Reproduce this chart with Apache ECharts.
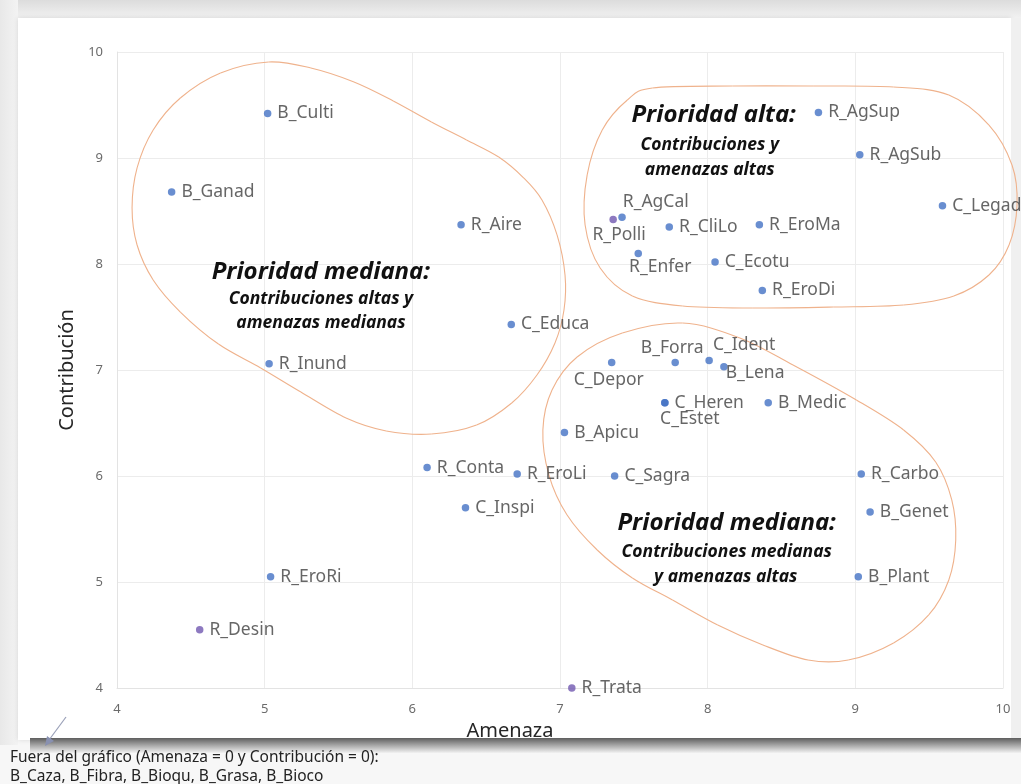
<!DOCTYPE html>
<html>
<head>
<meta charset="utf-8">
<script src="https://cdn.jsdelivr.net/npm/echarts@6/dist/echarts.min.js"></script>
<style>
  html, body { margin:0; padding:0; width:1021px; height:784px; overflow:hidden; background:#f7f7f7; }
  #topband { position:absolute; left:0; top:0; width:1021px; height:20px; background:linear-gradient(#dcdcdc, #f4f4f4); }
  #leftband { position:absolute; left:0; top:0; width:18px; height:745px; background:linear-gradient(90deg, #e8e8e8, #f3f3f3); }
  #card { position:absolute; left:18px; top:18px; width:993px; height:722px; background:#fff; box-shadow:0 0 5px rgba(0,0,0,0.12); }
  #rightband { position:absolute; left:1011px; top:18px; width:10px; height:722px; background:#f0f0f0; }
  #bottomshadow { position:absolute; left:30px; top:738px; width:991px; height:15px; background:linear-gradient(#5e5e5e, #9a9a9a 40%, #f2f2f2); }
  #chart { position:absolute; left:0; top:0; width:1021px; height:784px; }
</style>
</head>
<body>
<div id="topband"></div>
<div id="leftband"></div>
<div id="card"></div>
<div id="rightband"></div>
<div id="bottomshadow"></div>
<div id="chart"></div>
<script>
// ---- Data ----
const blueNames = ['B_Culti','B_Ganad','R_Aire','R_Inund','C_Educa','R_AgSup','R_AgSub','C_Legad','R_AgCal','R_CliLo','R_EroMa','R_Enfer','C_Ecotu','R_EroDi','C_Depor','B_Forra','C_Ident','B_Lena','C_Heren','C_Estet','B_Medic','B_Apicu','R_Conta','R_EroLi','C_Sagra','R_Carbo','B_Genet','B_Plant','C_Inspi','R_EroRi'];
const blueAmenaza = [5.02,4.37,6.33,5.03,6.67,8.75,9.03,9.59,7.42,7.74,8.35,7.53,8.05,8.37,7.35,7.78,8.01,8.11,7.71,7.71,8.41,7.03,6.10,6.71,7.37,9.04,9.10,9.02,6.36,5.04];
const blueContrib = [9.42,8.68,8.37,7.06,7.43,9.43,9.03,8.55,8.44,8.35,8.37,8.10,8.02,7.75,7.07,7.07,7.09,7.03,6.69,6.69,6.69,6.41,6.08,6.02,6.00,6.02,5.66,5.05,5.70,5.05];
const purpleNames = ['R_Polli','R_Desin','R_Trata'];
const purpleAmenaza = [7.36,4.56,7.08];
const purpleContrib = [8.42,4.55,4.00];
const xTicks = [4,5,6,7,8,9,10];
const yTicks = [4,5,6,7,8,9,10];

// Zone outlines (data coordinates: [Amenaza, Contribución])
const zoneMedianaAlta = [[5.027,9.906],[5.313,9.849],[5.605,9.717],[5.871,9.538],[6.129,9.340],[6.367,9.170],[6.585,9.009],[6.755,8.811],[6.878,8.604],[6.980,8.274],[7.034,7.896],[7.027,7.566],[6.966,7.255],[6.844,6.953],[6.673,6.689],[6.435,6.481],[6.129,6.396],[5.823,6.425],[5.551,6.547],[5.245,6.792],[4.973,7.019],[4.687,7.245],[4.429,7.547],[4.245,7.849],[4.136,8.179],[4.102,8.528],[4.136,8.906],[4.245,9.264],[4.429,9.566],[4.701,9.802]];
const zoneAlta = [[7.626,9.660],[8.170,9.679],[8.714,9.679],[9.259,9.670],[9.633,9.594],[9.905,9.311],[10.061,8.934],[10.095,8.557],[10.041,8.179],[9.905,7.896],[9.667,7.698],[9.327,7.613],[8.850,7.594],[8.306,7.585],[7.830,7.604],[7.490,7.698],[7.272,7.962],[7.170,8.368],[7.184,8.840],[7.286,9.264],[7.456,9.547]];
const zoneMedianaBaja = [[7.830,7.443],[8.218,7.302],[8.578,7.047],[9.007,6.717],[9.327,6.434],[9.544,6.132],[9.653,5.774],[9.680,5.396],[9.633,5.019],[9.497,4.689],[9.259,4.425],[8.952,4.264],[8.680,4.264],[8.374,4.406],[8.068,4.594],[7.762,4.830],[7.490,5.038],[7.252,5.302],[7.048,5.632],[6.925,6.009],[6.884,6.434],[6.946,6.811],[7.116,7.123],[7.422,7.349]];
const zones = [zoneMedianaAlta, zoneAlta, zoneMedianaBaja];

// Zone captions
const captionText = ['Prioridad mediana:','Contribuciones altas y','amenazas medianas','Prioridad alta:','Contribuciones y','amenazas altas','Prioridad mediana:','Contribuciones medianas','y amenazas altas'];
const captionX = [5.381,5.381,5.381,8.041,8.014,8.014,8.129,8.129,8.122];
const captionY = [7.925,7.670,7.443,9.406,9.123,8.887,5.557,5.283,5.047];
const captionKind = ['title','sub','sub','title','sub','sub','title','sub','sub'];

const footLines = ['Fuera del gráfico (Amenaza = 0 y Contribución = 0):','B_Caza, B_Fibra, B_Bioqu, B_Grasa, B_Bioco'];

// ---- Label placement overrides (style, not data) ----
const labelPlace = {
  'R_AgCal': {position:'right', offset:[-9,-15]},
  'R_Polli': {position:'bottom', offset:[6,-3]},
  'R_Enfer': {position:'bottom', offset:[22,-5]},
  'C_Depor': {position:'bottom', offset:[-3,-1]},
  'B_Forra': {position:'top', offset:[-3,4]},
  'C_Ident': {position:'top', offset:[35,3]},
  'B_Lena':  {position:'right', offset:[-8,6]},
  'C_Estet': {position:'bottom', offset:[25,-3]}
};

function buildData(names, xs, ys) {
  return names.map((n, i) => {
    const item = { name: n, value: [xs[i], ys[i]] };
    if (labelPlace[n]) item.label = Object.assign({}, labelPlace[n]);
    return item;
  });
}

// closed Catmull-Rom spline -> bezier segments
function splineSegments(pts) {
  const n = pts.length, segs = [];
  for (let i = 0; i < n; i++) {
    const p0 = pts[(i - 1 + n) % n], p1 = pts[i], p2 = pts[(i + 1) % n], p3 = pts[(i + 2) % n];
    segs.push({
      type: 'bezierCurve',
      shape: {
        x1: p1[0], y1: p1[1], x2: p2[0], y2: p2[1],
        cpx1: p1[0] + (p2[0] - p0[0]) / 6, cpy1: p1[1] + (p2[1] - p0[1]) / 6,
        cpx2: p2[0] - (p3[0] - p1[0]) / 6, cpy2: p2[1] - (p3[1] - p1[1]) / 6
      },
      style: { fill: 'none', stroke: '#efb28c', lineWidth: 1.1 }
    });
  }
  return segs;
}

const FONT = '"Noto Sans", "Open Sans", sans-serif';
const chart = echarts.init(document.getElementById('chart'), null, {renderer:'canvas'});

const labelCommon = {
  show: true, position: 'right', distance: 6,
  formatter: p => p.name, color: '#404040', fontSize: 17.5, fontFamily: FONT
};

chart.setOption({
  animation: false,
  grid: { left: 117, right: 18, top: 52, bottom: 96, containLabel: false },
  xAxis: {
    type: 'value', min: 4, max: 10, interval: 1,
    name: 'Amenaza', nameLocation: 'middle', nameGap: 33,
    nameTextStyle: { color: '#262626', fontSize: 20, fontFamily: FONT, padding: [0, 100, 0, 0] },
    axisLine: { show: true, lineStyle: { color: '#e3e3e3' } },
    axisTick: { show: false },
    axisLabel: { color: '#6b6b6b', fontSize: 13, fontFamily: FONT, margin: 15,
      formatter: v => xTicks.includes(v) ? String(v) : '' },
    splitLine: { show: true, lineStyle: { color: '#ececec' } }
  },
  yAxis: {
    type: 'value', min: 4, max: 10, interval: 1,
    name: 'Contribución', nameLocation: 'middle', nameGap: 38, nameRotate: 90,
    nameTextStyle: { color: '#262626', fontSize: 20, fontFamily: FONT },
    axisLine: { show: true, lineStyle: { color: '#e3e3e3' } },
    axisTick: { show: false },
    axisLabel: { color: '#6b6b6b', fontSize: 13, fontFamily: FONT, margin: 14,
      formatter: v => yTicks.includes(v) ? String(v) : '' },
    splitLine: { show: true, lineStyle: { color: '#ececec' } }
  },
  series: [
    {
      type: 'custom', name: 'zones', silent: true, z: 1,
      data: zones.map((z, i) => [z[0][0], z[0][1], i]),
      encode: { x: 0, y: 1 },
      renderItem: (params, api) => {
        const pts = zones[params.dataIndex].map(p => api.coord(p));
        return { type: 'group', children: splineSegments(pts) };
      }
    },
    {
      type: 'custom', name: 'captions', silent: true, z: 5,
      data: captionText.map((t, i) => [captionX[i], captionY[i], i]),
      encode: { x: 0, y: 1 },
      renderItem: (params, api) => {
        const i = params.dataIndex;
        const c = api.coord([captionX[i], captionY[i]]);
        const title = captionKind[i] === 'title';
        return {
          type: 'text', x: c[0], y: c[1],
          style: {
            text: captionText[i],
            font: 'italic bold ' + (title ? 24 : 17.5) + 'px ' + FONT,
            fill: '#111', align: 'center', verticalAlign: 'middle'
          }
        };
      }
    },
    {
      type: 'scatter', name: 'azul', z: 3,
      symbolSize: 7.5,
      itemStyle: { color: '#4472c4' },
      label: labelCommon,
      data: buildData(blueNames, blueAmenaza, blueContrib)
    },
    {
      type: 'scatter', name: 'morado', z: 3,
      symbolSize: 7.5,
      itemStyle: { color: '#7058b0' },
      label: labelCommon,
      data: buildData(purpleNames, purpleAmenaza, purpleContrib)
    }
  ],
  graphic: [
    { type: 'line', shape: { x1: 66, y1: 717, x2: 49, y2: 740 }, style: { stroke: '#9aa0b8', lineWidth: 1.2 } },
    { type: 'polygon', shape: { points: [[45,746],[47,736],[54,741]] }, style: { fill: '#8890b0' } },
    { type: 'text', left: 10, top: 750, style: { text: footLines[0], font: '15.5px ' + FONT, fill: '#222' } },
    { type: 'text', left: 10, top: 769, style: { text: footLines[1], font: '15.5px ' + FONT, fill: '#222' } }
  ]
});
</script>
</body>
</html>
